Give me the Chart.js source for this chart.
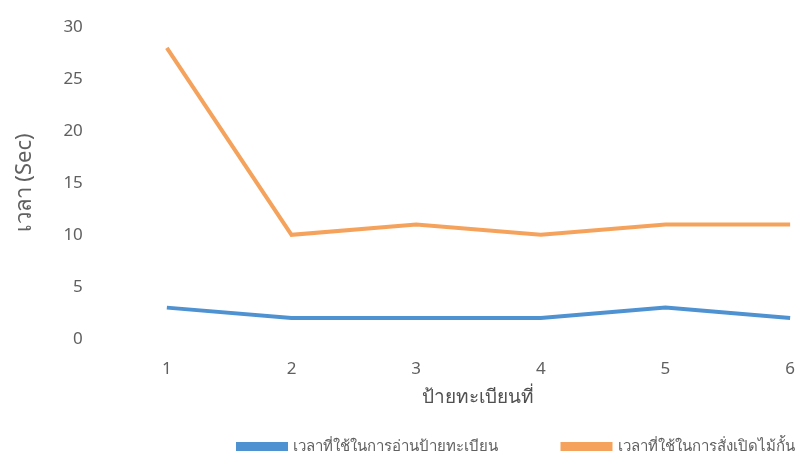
<!DOCTYPE html>
<html>
<head>
<meta charset="utf-8">
<script src="https://cdn.jsdelivr.net/npm/chart.js@4.4.0/dist/chart.umd.min.js"></script>
<style>
  html, body { margin: 0; padding: 0; background: #fff; }
  #wrap { width: 799px; height: 458px; }
</style>
</head>
<body>
<div id="wrap"><canvas id="graphique"></canvas></div>
<script>
// données
const categories = ['1', '2', '3', '4', '5', '6'];
const tempsLecture = [3, 2, 2, 2, 3, 2];
const tempsBarriere = [28, 10, 11, 10, 11, 11];
const nomLecture = 'เวลาที่ใช้ในการอ่านป้ายทะเบียน';
const nomBarriere = 'เวลาที่ใช้ในการสั่งเปิดไม้กั้น';
const titreX = 'ป้ายทะเบียนที่';
const titreY = 'เวลา (Sec)';

const bleu = '#4f92d2';
const orange = '#f5a35c';
const gris = '#606060';
const police = "'Noto Sans', 'DejaVu Sans', sans-serif";

const data = {
  labels: categories,
  datasets: [
    {
      label: nomLecture,
      data: tempsLecture,
      borderColor: bleu,
      backgroundColor: bleu,
      borderWidth: 4,
      pointRadius: 0,
      tension: 0
    },
    {
      label: nomBarriere,
      data: tempsBarriere,
      borderColor: orange,
      backgroundColor: orange,
      borderWidth: 4,
      pointRadius: 0,
      tension: 0
    }
  ]
};

// espace entre les deux entrées de la légende (le padding sert aussi en vertical)
const espaceLegende = '\u2003\u2003\u2003\u2003';
const libellesLegende = function(chart) {
  const items = Chart.defaults.plugins.legend.labels.generateLabels(chart);
  items[0].text = items[0].text + espaceLegende;
  return items;
};

// les traits de graduation ne sont pas dessinés (grid.display = false),
// tickLength sert juste à décaler les libellés
const options = {
  responsive: false,
  animation: false,
  layout: { padding: { top: 27, right: 0, left: 12, bottom: -6 } },
  plugins: {
    legend: {
      position: 'bottom',
      align: 'end',
      labels: {
        color: gris,
        font: { family: police, size: 15 },
        boxWidth: 48,
        boxHeight: 5,
        padding: 4,
        generateLabels: libellesLegende
      }
    },
    tooltip: { enabled: false }
  },
  scales: {
    x: {
      offset: false,
      grid: { display: false, drawTicks: true, tickLength: 16 },
      border: { display: false },
      ticks: { color: gris, font: { family: police, size: 17 }, padding: 4 },
      title: { display: true, text: titreX, color: '#505050', font: { family: police, size: 19 }, padding: { top: 3, bottom: 26 } }
    },
    y: {
      min: 0,
      max: 30,
      grid: { display: false, drawTicks: true, tickLength: 80 },
      border: { display: false },
      ticks: { stepSize: 5, color: gris, font: { family: police, size: 17 }, padding: 4 },
      title: { display: true, text: titreY, color: gris, font: { family: police, size: 22 }, padding: { top: 0, bottom: 21 } }
    }
  }
};

const canvas = document.getElementById('graphique');
canvas.width = 799;
canvas.height = 458;
const ctx = canvas.getContext('2d');
new Chart(ctx, { type: 'line', data, options });
</script>
</body>
</html>
